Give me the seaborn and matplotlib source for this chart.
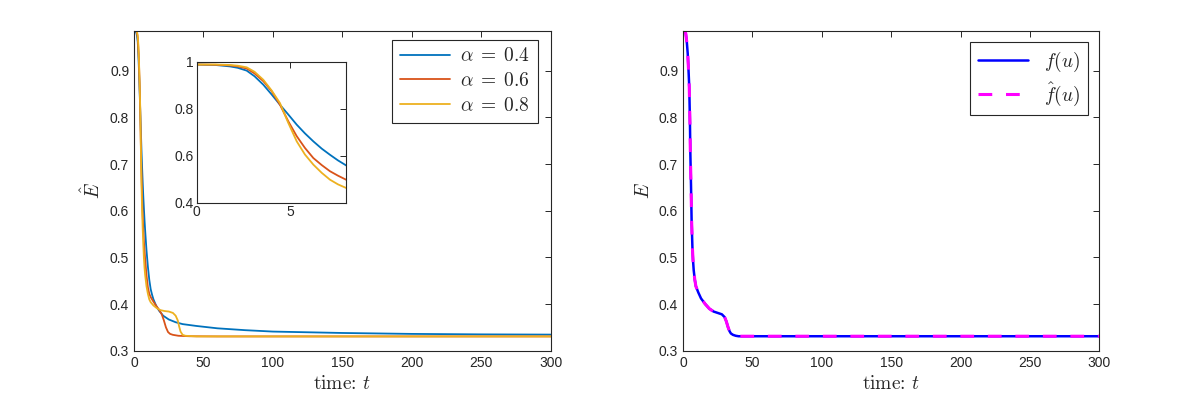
import numpy as np
import pandas as pd
import matplotlib
matplotlib.use("Agg")
import matplotlib.pyplot as plt
import seaborn as sns
from matplotlib.ticker import FormatStrFormatter

# === Data ===
t_early = [0, 1, 1.78, 2.2, 2.68, 3.1, 3.57, 4.02, 4.46, 4.91, 5.36, 5.8, 6.25, 6.7, 7.14, 7.57, 8.0]

t_a04 = t_early + [9, 10, 11, 12, 13, 14, 16, 18, 21, 25, 30, 35, 45, 60, 80, 100, 150, 200, 250, 300]
E_a04 = [0.988, 0.986, 0.980, 0.974, 0.962, 0.938, 0.902, 0.860, 0.817, 0.775, 0.732, 0.695,
         0.661, 0.630, 0.604, 0.580, 0.559,
         0.515, 0.480, 0.452, 0.432, 0.420, 0.410, 0.396, 0.386, 0.375, 0.367, 0.361, 0.357,
         0.353, 0.348, 0.344, 0.341, 0.338, 0.336, 0.335, 0.3345]

t_a06 = t_early + [9, 10, 11, 12, 14, 16.5, 18, 20, 21.5, 23, 24.5, 26, 28, 32, 40, 60, 300]
E_a06 = [0.988, 0.987, 0.984, 0.980, 0.971, 0.950, 0.917, 0.874, 0.817, 0.746, 0.683, 0.633,
         0.590, 0.560, 0.534, 0.515, 0.498,
         0.462, 0.436, 0.422, 0.415, 0.405, 0.394, 0.388, 0.378, 0.365, 0.350, 0.340, 0.336,
         0.334, 0.332, 0.331, 0.3306, 0.3306]

t_a08 = t_early + [9, 10, 11, 12, 14, 16.5, 19, 22, 25, 28, 30, 31.5, 32.5, 33.5, 35, 37, 45, 300]
E_a08 = [0.988, 0.988, 0.986, 0.983, 0.976, 0.957, 0.923, 0.877, 0.824, 0.739, 0.661, 0.605,
         0.562, 0.527, 0.498, 0.478, 0.463,
         0.438, 0.422, 0.410, 0.404, 0.397, 0.391, 0.387, 0.385, 0.384, 0.381, 0.375, 0.365,
         0.352, 0.341, 0.334, 0.332, 0.3306, 0.3306]

alpha_labels = [r"$\alpha\;=\;0.4$", r"$\alpha\;=\;0.6$", r"$\alpha\;=\;0.8$"]
alpha_colors = ["#0072BD", "#D95319", "#EDB120"]

t_E = [0, 1, 2, 2.8, 3.4, 4.0, 4.5, 5.0, 5.3, 5.8, 6.2, 6.8, 7.2, 7.7, 8.5, 9.3, 11, 13,
       16, 19, 22, 26, 28, 30, 31.2, 32.4, 33.5, 34.5, 36, 38, 40, 60, 300]
E_f = [0.988, 0.987, 0.980, 0.960, 0.937, 0.900, 0.866, 0.790, 0.723, 0.650, 0.580, 0.520,
       0.495, 0.473, 0.452, 0.438, 0.425, 0.412, 0.400, 0.390, 0.384, 0.380, 0.378, 0.372,
       0.363, 0.351, 0.342, 0.337, 0.334, 0.332, 0.331, 0.331, 0.331]
E_fhat = list(E_f)

# long table for the alpha curves
df_alpha = pd.concat([
    pd.DataFrame({"t": t, "E": e, "alpha": lab})
    for t, e, lab in zip([t_a04, t_a06, t_a08], [E_a04, E_a06, E_a08], alpha_labels)
], ignore_index=True)

# === Style ===
sns.set_style("white")
plt.rcParams["font.family"] = ["Liberation Sans", "DejaVu Sans"]
plt.rcParams["mathtext.fontset"] = "cm"
plt.rcParams["axes.edgecolor"] = "#262626"
plt.rcParams["axes.linewidth"] = 0.8
for k in ["xtick", "ytick"]:
    plt.rcParams[f"{k}.direction"] = "in"
    plt.rcParams[f"{k}.color"] = "#262626"
    plt.rcParams[f"{k}.labelcolor"] = "#262626"
    plt.rcParams[f"{k}.labelsize"] = 10
    plt.rcParams[f"{k}.major.size"] = 4
    plt.rcParams[f"{k}.major.width"] = 0.7
plt.rcParams["xtick.top"] = True
plt.rcParams["ytick.right"] = True

W, H = 1196, 405
fig = plt.figure(figsize=(W / 100, H / 100), dpi=100)


def px_axes(x0, y0, x1, y1):
    return fig.add_axes([x0 / W, 1 - y1 / H, (x1 - x0) / W, (y1 - y0) / H])


ax1 = px_axes(134, 30.7, 550.7, 350.7)
ax2 = px_axes(683, 30.7, 1099.3, 350.7)
axin = px_axes(196.7, 61.7, 346, 202.7)

xlabel_txt = "time: $t$"

# === Left panel ===
sns.lineplot(data=df_alpha, x="t", y="E", hue="alpha", palette=alpha_colors,
             estimator=None, sort=False, lw=1.3, ax=ax1)
ax1.set_xlim(0, 300)
ax1.set_ylim(0.3, 0.986)
ax1.set_xticks(np.arange(0, 301, 50))
ax1.set_yticks([0.3, 0.4, 0.5, 0.6, 0.7, 0.8, 0.9])
ax1.yaxis.set_major_formatter(FormatStrFormatter("%g"))
ax1.set_xlabel(xlabel_txt, fontsize=14, family="cmr10")
ax1.set_ylabel(r"$\hat{E}$", fontsize=14)
leg1 = ax1.legend(loc="upper right", bbox_to_anchor=(1 - 13 / 416.7, 1 - 9 / 320),
                  borderaxespad=0, fontsize=14, handlelength=2.6, labelspacing=0.35,
                  handletextpad=0.5, fancybox=False, framealpha=1, edgecolor="#262626")
leg1.get_frame().set_linewidth(0.8)

sns.lineplot(data=df_alpha, x="t", y="E", hue="alpha", palette=alpha_colors,
             estimator=None, sort=False, lw=1.3, legend=False, ax=axin)
axin.set_xlim(0, 8)
axin.set_ylim(0.4, 1.0)
axin.set_xticks([0, 5])
axin.set_yticks([0.4, 0.6, 0.8, 1.0])
axin.yaxis.set_major_formatter(FormatStrFormatter("%g"))
axin.set_xlabel("")
axin.set_ylabel("")
axin.tick_params(labelsize=10, pad=2)

# === Right panel ===
sns.lineplot(x=t_E, y=E_f, color="#0000FF", lw=1.8, estimator=None, sort=False,
             label=r"$f(u)$", ax=ax2)
sns.lineplot(x=t_E, y=E_fhat, color="#FF00FF", lw=2.2, estimator=None, sort=False,
             linestyle=(0, (4.5, 4.5)), label=r"$\hat{f}(u)$", ax=ax2)
ax2.set_xlim(0, 300)
ax2.set_ylim(0.3, 0.986)
ax2.set_xticks(np.arange(0, 301, 50))
ax2.set_yticks([0.3, 0.4, 0.5, 0.6, 0.7, 0.8, 0.9])
ax2.yaxis.set_major_formatter(FormatStrFormatter("%g"))
ax2.set_xlabel(xlabel_txt, fontsize=14, family="cmr10")
ax2.set_ylabel(r"$E$", fontsize=14)
leg2 = ax2.legend(loc="upper right", bbox_to_anchor=(1 - 11.6 / 416.3, 1 - 11.6 / 320),
                  borderaxespad=0, fontsize=14, handlelength=2.6, labelspacing=0.3,
                  fancybox=False, framealpha=1, edgecolor="#262626")
leg2.get_frame().set_linewidth(0.8)

fig.savefig("out.png", dpi=100)
plt.close(fig)
